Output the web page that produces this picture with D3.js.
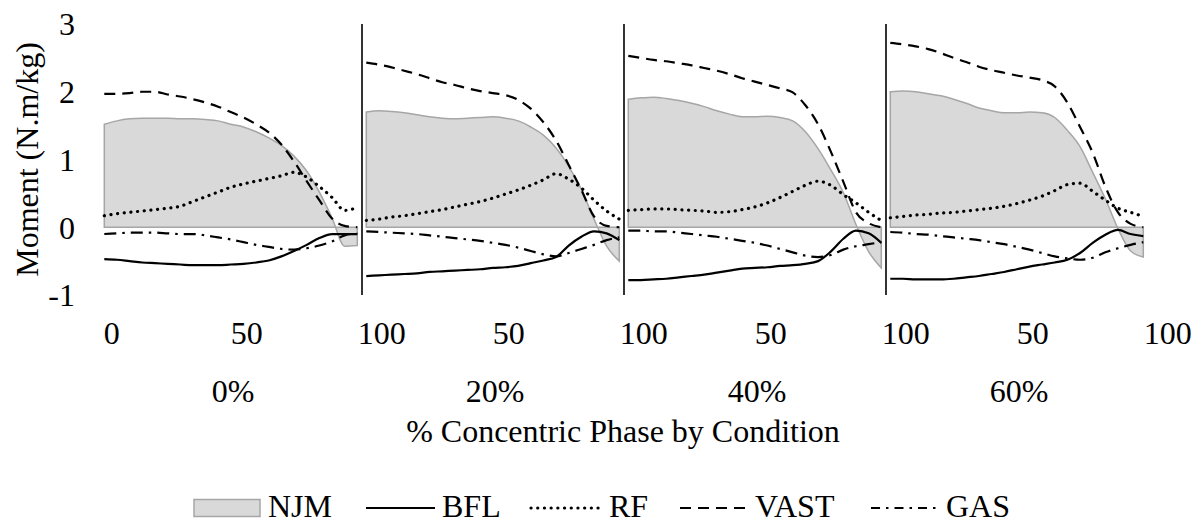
<!DOCTYPE html>
<html>
<head>
<meta charset="utf-8">
<script src="https://cdn.jsdelivr.net/npm/d3@7/dist/d3.min.js"></script>
<style>
  html, body { margin: 0; padding: 0; background: #fff; }
  svg { display: block; }
  svg text { font-family: "Liberation Serif", "Tinos", "Times New Roman", Times, "Nimbus Roman", "DejaVu Serif", "Noto Serif", serif !important; font-size: 32px; fill: #000; }
</style>
</head>
<body>
<svg id="chart" width="1201" height="523"></svg>
<script>
// ---------- data ----------
const conditions = ["0%", "20%", "40%", "60%"];
const pct = [0,5,10,15,20,25,30,35,40,45,50,55,60,65,70,75,80,85,90,95,100];
const tickValues = [0, 50, 100, 150, 200, 250, 300, 350, 400];
const tickLabels = ["0", "50", "100", "50", "100", "50", "100", "50", "100"];
const yTicks = [-1, 0, 1, 2, 3];

const njm0  = [1.52,1.57,1.60,1.61,1.61,1.61,1.60,1.60,1.59,1.57,1.52,1.48,1.41,1.32,1.21,1.05,0.83,0.52,0.14,-0.28,-0.27];
const vast0 = [1.97,1.97,1.98,2.00,2.00,1.96,1.93,1.89,1.84,1.78,1.70,1.62,1.52,1.40,1.22,0.97,0.68,0.40,0.13,0.02,0.00];
const rf0   = [0.17,0.20,0.22,0.24,0.26,0.28,0.31,0.38,0.45,0.52,0.59,0.64,0.68,0.72,0.76,0.81,0.74,0.60,0.44,0.25,0.29];
const gas0  = [-0.10,-0.09,-0.08,-0.08,-0.08,-0.09,-0.10,-0.10,-0.12,-0.15,-0.18,-0.22,-0.26,-0.29,-0.32,-0.33,-0.31,-0.27,-0.21,-0.12,-0.09];
const bfl0  = [-0.47,-0.48,-0.50,-0.52,-0.53,-0.54,-0.55,-0.56,-0.56,-0.56,-0.55,-0.54,-0.52,-0.49,-0.43,-0.35,-0.26,-0.16,-0.10,-0.10,-0.10];

const njm1  = [1.70,1.72,1.71,1.69,1.66,1.63,1.61,1.60,1.61,1.62,1.63,1.61,1.57,1.48,1.36,1.17,0.90,0.56,0.12,-0.28,-0.50];
const vast1 = [2.43,2.40,2.36,2.31,2.26,2.20,2.14,2.10,2.05,2.01,1.98,1.95,1.88,1.75,1.55,1.28,0.92,0.55,0.16,0.02,0.00];
const rf1   = [0.10,0.12,0.15,0.17,0.20,0.23,0.26,0.30,0.34,0.38,0.43,0.49,0.55,0.62,0.70,0.79,0.71,0.58,0.40,0.24,0.12];
const gas1  = [-0.06,-0.07,-0.08,-0.09,-0.10,-0.12,-0.14,-0.16,-0.18,-0.20,-0.23,-0.26,-0.30,-0.35,-0.40,-0.43,-0.38,-0.32,-0.26,-0.19,-0.15];
const bfl1  = [-0.72,-0.71,-0.70,-0.69,-0.68,-0.66,-0.65,-0.64,-0.63,-0.62,-0.60,-0.59,-0.57,-0.53,-0.49,-0.44,-0.27,-0.14,-0.06,-0.09,-0.19];

const njm2  = [1.89,1.91,1.92,1.90,1.87,1.83,1.78,1.72,1.67,1.63,1.63,1.64,1.62,1.57,1.41,1.16,0.85,0.51,0.04,-0.36,-0.60];
const vast2 = [2.53,2.50,2.47,2.45,2.42,2.39,2.35,2.31,2.26,2.20,2.15,2.10,2.05,1.99,1.80,1.52,1.12,0.67,0.22,0.06,0.00];
const rf2   = [0.25,0.26,0.27,0.27,0.26,0.25,0.24,0.22,0.23,0.26,0.30,0.36,0.44,0.53,0.62,0.68,0.62,0.48,0.36,0.22,0.10];
const gas2  = [-0.05,-0.05,-0.06,-0.06,-0.08,-0.10,-0.12,-0.14,-0.17,-0.20,-0.23,-0.27,-0.32,-0.37,-0.42,-0.44,-0.41,-0.33,-0.28,-0.25,-0.22];
const bfl2  = [-0.78,-0.78,-0.77,-0.76,-0.74,-0.72,-0.70,-0.67,-0.64,-0.61,-0.60,-0.59,-0.57,-0.56,-0.54,-0.50,-0.36,-0.17,-0.05,-0.09,-0.23];

const njm3  = [2.00,2.01,2.00,1.97,1.94,1.89,1.83,1.76,1.72,1.69,1.69,1.70,1.69,1.62,1.43,1.19,0.81,0.42,-0.02,-0.35,-0.44];
const vast3 = [2.72,2.70,2.67,2.63,2.57,2.50,2.44,2.37,2.32,2.28,2.24,2.21,2.17,2.08,1.84,1.48,1.10,0.60,0.22,0.05,0.00];
const rf3   = [0.14,0.16,0.18,0.19,0.21,0.22,0.24,0.26,0.28,0.31,0.35,0.40,0.46,0.54,0.63,0.65,0.53,0.40,0.28,0.22,0.16];
const gas3  = [-0.07,-0.08,-0.10,-0.11,-0.13,-0.15,-0.17,-0.19,-0.22,-0.25,-0.29,-0.33,-0.38,-0.43,-0.46,-0.48,-0.45,-0.37,-0.31,-0.26,-0.22];
const bfl3  = [-0.76,-0.76,-0.77,-0.77,-0.77,-0.76,-0.74,-0.72,-0.69,-0.66,-0.62,-0.58,-0.55,-0.52,-0.48,-0.38,-0.23,-0.11,-0.04,-0.10,-0.13];

const njm  = [njm0, njm1, njm2, njm3];
const bfl  = [bfl0, bfl1, bfl2, bfl3];
const rf   = [rf0, rf1, rf2, rf3];
const vast = [vast0, vast1, vast2, vast3];
const gas  = [gas0, gas1, gas2, gas3];

// ---------- styles ----------
const FONT = "'Liberation Serif', 'Tinos', 'Times New Roman', Times, 'Nimbus Roman', 'DejaVu Serif', 'Noto Serif', serif";
const lineStyles = {
  BFL:  { dash: null,          width: 2.2, cap: "butt" },
  RF:   { dash: "0.1 6.6",     width: 3.2, cap: "round" },
  VAST: { dash: "11 7",        width: 2.2, cap: "butt" },
  GAS:  { dash: "12 6 2.5 6",  width: 2.2, cap: "butt" }
};
const areaFill = "#d9d9d9", areaStroke = "#a6a6a6";

// ---------- scales ----------
const svg = d3.select("#chart");
const y = d3.scaleLinear().domain([-1, 3]).range([295, 24]);
const xPanel = d3.scaleBand().domain(conditions).range([100, 1148]).padding(0);
const xIn = d3.scaleLinear().domain([0, 100]).range([4.3, 257.3]);
const xTick = d3.scaleLinear().domain([0, 400]).range([100, 1148]);

// ---------- panels ----------
conditions.forEach((c, k) => {
  const g = svg.append("g").attr("transform", `translate(${xPanel(c)},0)`);
  const pts = (arr) => arr.map((v, i) => [pct[i], v]);

  const area = d3.area()
    .x(d => xIn(d[0])).y0(y(0)).y1(d => y(d[1]))
    .curve(d3.curveMonotoneX);
  g.append("path")
    .datum(pts(njm[k]))
    .attr("d", area)
    .attr("fill", areaFill)
    .attr("stroke", areaStroke)
    .attr("stroke-width", 1.5);

  const line = d3.line().x(d => xIn(d[0])).y(d => y(d[1])).curve(d3.curveMonotoneX);
  const series = [["GAS", gas[k]], ["VAST", vast[k]], ["RF", rf[k]], ["BFL", bfl[k]]];
  series.forEach(([name, arr]) => {
    const s = lineStyles[name];
    g.append("path")
      .datum(pts(arr))
      .attr("d", line)
      .attr("fill", "none")
      .attr("stroke", "#000")
      .attr("stroke-width", s.width)
      .attr("stroke-linecap", s.cap)
      .attr("stroke-dasharray", s.dash);
  });

  if (k > 0) {
    svg.append("line")
      .attr("x1", xPanel(c)).attr("x2", xPanel(c))
      .attr("y1", y(3)).attr("y2", y(-1))
      .attr("stroke", "#000").attr("stroke-width", 1.6);
  }

  svg.append("text")
    .attr("x", xPanel(c) + xPanel.bandwidth() / 2 + 2)
    .attr("y", 401.5)
    .attr("text-anchor", "middle")
    .text(c);
});

// ---------- x tick labels ----------
const xAxis = svg.append("g")
  .call(d3.axisBottom(xTick).tickValues(tickValues).tickSize(0)
        .tickFormat((d, i) => tickLabels[i]));
xAxis.attr("font-family", null).attr("font-size", null);
xAxis.select(".domain").remove();
xAxis.selectAll(".tick").attr("transform", (d, i) =>
  `translate(${xTick(d) + 7.7 + 4 * tickLabels[i].length},0)`);
xAxis.selectAll("text")
  .attr("y", 343.5).attr("dy", null)
  .attr("text-anchor", "middle")
  .style("font-family", FONT)
  .style("font-size", "32px").attr("fill", "#000");

// ---------- y axis labels ----------
const yAxis = svg.append("g").attr("transform", "translate(75,0)")
  .call(d3.axisLeft(y).tickValues(yTicks).tickSize(0).tickPadding(0)
        .tickFormat(d3.format("d")));
yAxis.attr("font-family", null).attr("font-size", null);
yAxis.select(".domain").remove();
yAxis.selectAll("text")
  .attr("x", 0).attr("dy", "0.34em")
  .style("font-family", FONT)
  .style("font-size", "32px").attr("fill", "#000")
  .text(d => d < 0 ? "-" + Math.abs(d) : d);

// ---------- titles ----------
svg.append("text")
  .attr("transform", `translate(38,${(y(3) + y(-1)) / 2}) rotate(-90)`)
  .attr("text-anchor", "middle")
  .text("Moment (N.m/kg)");
svg.append("text")
  .attr("x", 623).attr("y", 442)
  .attr("text-anchor", "middle")
  .text("% Concentric Phase by Condition");

// ---------- legend ----------
const legendItems = ["NJM", "BFL", "RF", "VAST", "GAS"];
const legendSymX = [194, 366, 531, 680, 871];
const legendTextX = [268, 442, 609, 755, 946];
const ly = 508, lb = 517;
legendItems.forEach((name, i) => {
  if (name === "NJM") {
    svg.append("rect")
      .attr("x", legendSymX[i]).attr("y", 499.5)
      .attr("width", 66).attr("height", 17)
      .attr("fill", areaFill).attr("stroke", areaStroke).attr("stroke-width", 1.5);
  } else {
    const s = lineStyles[name];
    svg.append("line")
      .attr("x1", legendSymX[i]).attr("x2", legendSymX[i] + 69)
      .attr("y1", ly).attr("y2", ly)
      .attr("stroke", "#000")
      .attr("stroke-width", s.width)
      .attr("stroke-linecap", s.cap)
      .attr("stroke-dasharray", name === "GAS" ? "9 6 2.5 6" : s.dash);
  }
  svg.append("text").attr("x", legendTextX[i]).attr("y", lb).text(name);
});
</script>
</body>
</html>
